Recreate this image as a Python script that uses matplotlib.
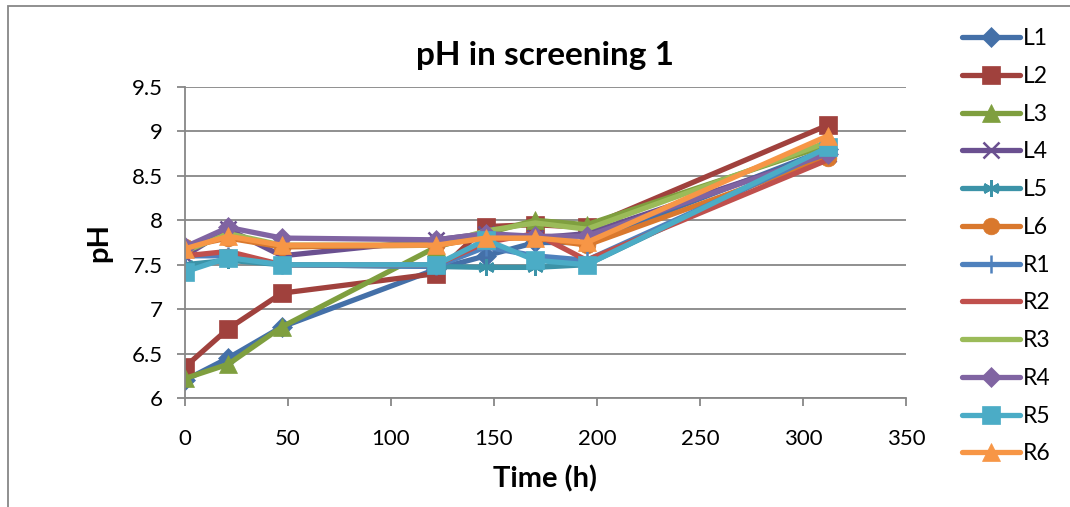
import matplotlib
matplotlib.use("Agg")
import matplotlib.pyplot as plt
from matplotlib.patches import Rectangle

plt.rcParams['font.family'] = ['Lato', 'DejaVu Sans']

# sampling times (h)
tiempos = [0, 21, 47, 122, 146, 170, 195, 312]

nombres = ["L1", "L2", "L3", "L4", "L5", "L6", "R1", "R2", "R3", "R4", "R5", "R6"]

ph_L1 = [6.20, 6.45, 6.80, 7.45, 7.60, 7.75, 7.75, 8.80]
ph_L2 = [6.35, 6.78, 7.18, 7.40, 7.93, 7.95, 7.92, 9.07]
ph_L3 = [6.22, 6.38, 6.80, 7.70, 7.85, 8.00, 7.95, 8.85]
ph_L4 = [7.60, 7.90, 7.60, 7.78, 7.85, 7.80, 7.85, 8.75]
ph_L5 = [7.50, 7.55, 7.50, 7.48, 7.47, 7.47, 7.50, 8.80]
ph_L6 = [7.70, 7.80, 7.70, 7.72, 7.80, 7.80, 7.72, 8.70]
ph_R1 = [7.60, 7.60, 7.50, 7.48, 7.70, 7.60, 7.55, 8.78]
ph_R2 = [7.60, 7.65, 7.50, 7.50, 7.75, 7.85, 7.55, 8.68]
ph_R3 = [7.65, 7.85, 7.72, 7.72, 7.88, 7.97, 7.90, 8.88]
ph_R4 = [7.70, 7.92, 7.80, 7.78, 7.85, 7.82, 7.82, 8.75]
ph_R5 = [7.42, 7.58, 7.50, 7.50, 7.78, 7.55, 7.50, 8.82]
ph_R6 = [7.68, 7.82, 7.72, 7.72, 7.80, 7.80, 7.75, 8.95]

series = [ph_L1, ph_L2, ph_L3, ph_L4, ph_L5, ph_L6,
          ph_R1, ph_R2, ph_R3, ph_R4, ph_R5, ph_R6]

colores = ["#4470A8", "#A0413D", "#7F9F3F", "#6A5090", "#3C93A8", "#D9782D",
           "#4F81BD", "#C0504D", "#9BBB59", "#8064A2", "#4BACC6", "#F79646"]
marcadores = ["D", "s", "^", "x", (6, 2, 0), "o", "+", "", "", "D", "s", "^"]
tamanos = [10, 13, 13, 12, 12, 12, 13, 0, 0, 10, 13, 13]

fig = plt.figure(figsize=(10.7, 5.07), dpi=100)
ax = fig.add_axes([0.1729, 0.215, 0.6738, 0.6134])

for nombre, ph, c, m, ms in zip(nombres, series, colores, marcadores, tamanos):
    ax.plot(tiempos, ph, color=c, lw=3.8, marker=m if m else None, markersize=ms,
            markeredgewidth=1.8 if m in ("x", "+", (6, 2, 0)) else 0.5,
            markeredgecolor=c, label=nombre, solid_capstyle="round")

ax.set_xlim(0, 350)
ax.set_ylim(6, 9.5)
ax.set_xticks(range(0, 351, 50))
ax.set_yticks([6, 6.5, 7, 7.5, 8, 8.5, 9, 9.5])
ax.set_yticklabels(["6", "6.5", "7", "7.5", "8", "8.5", "9", "9.5"])
ax.grid(axis="y", color="#878787", lw=1.3)
ax.set_axisbelow(True)
for lado in ["top", "right"]:
    ax.spines[lado].set_visible(False)
for lado in ["left", "bottom"]:
    ax.spines[lado].set_color("#878787")
    ax.spines[lado].set_linewidth(1.3)
ax.tick_params(axis="both", colors="#878787", labelcolor="black", labelsize=16,
               length=6, width=1.3)
ax.tick_params(axis="x", pad=16)
ax.tick_params(axis="y", pad=10)
ax.margins(x=0)

ax.set_title("pH in screening 1", fontsize=24, fontweight="bold", pad=16)
ax.set_xlabel("Time (h)", fontsize=21, fontweight="bold", labelpad=12)
ax.set_ylabel("pH", fontsize=21, fontweight="bold", labelpad=14)

fig.legend(loc="upper left", bbox_to_anchor=(0.88, 0.985), frameon=False,
           fontsize=16.5, handlelength=2.5, labelspacing=0.73, handletextpad=0.15)

# marco exterior del grafico
fig.patches.append(Rectangle((8 / 1070, -0.2), 1.2, 1.2 - 6 / 507,
                             transform=fig.transFigure, fill=False,
                             edgecolor="#878787", lw=1.3))

fig.savefig("out.png", dpi=100)
